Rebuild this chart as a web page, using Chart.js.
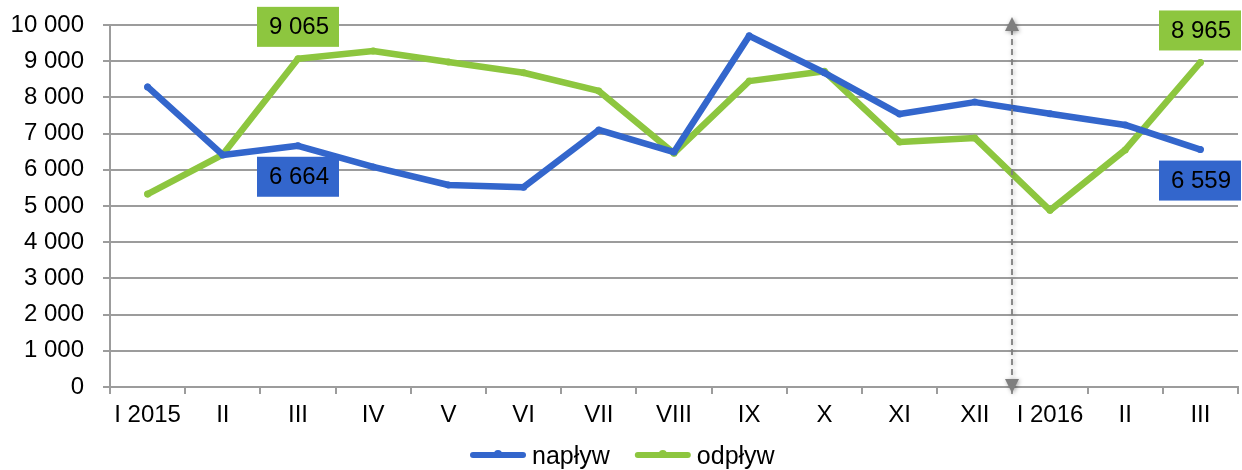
<!DOCTYPE html>
<html>
<head>
<meta charset="utf-8">
<script src="https://cdn.jsdelivr.net/npm/chart.js@4.4.1/dist/chart.umd.min.js"></script>
<style>
  html, body { margin: 0; padding: 0; background: #fff; }
  #wrap { width: 1242px; height: 470px; }
</style>
</head>
<body>
<div id="wrap"><canvas id="c" width="1242" height="470"></canvas></div>
<script>
const categories = ['I 2015', 'II', 'III', 'IV', 'V', 'VI', 'VII', 'VIII', 'IX', 'X', 'XI', 'XII', 'I 2016', 'II', 'III'];
const naplyw = [8290, 6410, 6664, 6080, 5580, 5520, 7100, 6490, 9700, 8680, 7540, 7870, 7550, 7240, 6559];
const odplyw = [5330, 6420, 9065, 9280, 8980, 8680, 8180, 6460, 8450, 8720, 6770, 6880, 4880, 6550, 8965];
const yTicks = [0, 1000, 2000, 3000, 4000, 5000, 6000, 7000, 8000, 9000, 10000];
// labelled points: [datasetIndex, pointIndex, above?]
const labelledPoints = [[1, 2, true], [0, 2, false], [1, 14, true], [0, 14, false]];
const dividerAfterIndex = 11;

const BLUE = '#3366cc';
const GREEN = '#8dc63f';
const GRID = '#9c9c9c';
const FONT = '"Liberation Sans", Arial, sans-serif';

function fmt(v) {
  return String(v).replace(/\B(?=(\d{3})+(?!\d))/g, ' ');
}

const labelPlugin = {
  id: 'valueBoxes',
  afterDatasetsDraw(chart) {
    const ctx = chart.ctx;
    ctx.save();
    ctx.font = '24px ' + FONT;
    labelledPoints.forEach(([ds, i, above]) => {
      const meta = chart.getDatasetMeta(ds);
      const pt = meta.data[i];
      const v = chart.data.datasets[ds].data[i];
      const w = 82, h = 40;
      let left = pt.x - w / 2;
      if (left + w > chart.width - 1) left = chart.width - 1 - w;
      const top = above ? pt.y - 12 - h : pt.y + 11;
      ctx.fillStyle = chart.data.datasets[ds].borderColor;
      ctx.fillRect(left, top, w, h);
      ctx.fillStyle = '#000';
      ctx.textAlign = 'center';
      ctx.textBaseline = 'middle';
      ctx.fillText(fmt(v), left + w / 2 + 1, top + h / 2 + 1);
    });
    ctx.restore();
  }
};

const arrowPlugin = {
  id: 'dividerArrow',
  afterDatasetsDraw(chart) {
    const xs = chart.scales.x;
    const ys = chart.scales.y;
    const x = Math.round((xs.getPixelForValue(dividerAfterIndex) + xs.getPixelForValue(dividerAfterIndex + 1)) / 2);
    const yTop = ys.getPixelForValue(10000) - 8;
    const yBot = ys.getPixelForValue(0) + 6;
    const ctx = chart.ctx;
    ctx.save();
    ctx.shadowColor = 'rgba(0,0,0,0.35)';
    ctx.shadowBlur = 4;
    ctx.shadowOffsetX = 1;
    ctx.shadowOffsetY = 1;
    ctx.strokeStyle = '#7f7f7f';
    ctx.fillStyle = '#7f7f7f';
    ctx.lineWidth = 1.8;
    ctx.setLineDash([6, 4]);
    ctx.beginPath();
    ctx.moveTo(x, yTop + 12);
    ctx.lineTo(x, yBot - 12);
    ctx.stroke();
    ctx.setLineDash([]);
    ctx.beginPath();
    ctx.moveTo(x, yTop);
    ctx.lineTo(x - 7, yTop + 14);
    ctx.lineTo(x + 7, yTop + 14);
    ctx.closePath();
    ctx.fill();
    ctx.beginPath();
    ctx.moveTo(x, yBot);
    ctx.lineTo(x - 7, yBot - 14);
    ctx.lineTo(x + 7, yBot - 14);
    ctx.closePath();
    ctx.fill();
    ctx.restore();
  }
};

const legendPlugin = {
  id: 'customLegend',
  afterDraw(chart) {
    const ctx = chart.ctx;
    ctx.save();
    ctx.font = '25px ' + FONT;
    ctx.textBaseline = 'middle';
    ctx.textAlign = 'left';
    const y = 456;
    const lineW = 56, gap = 6, itemGap = 25;
    const items = chart.data.datasets.map(d => ({ label: d.label, color: d.borderColor, tw: ctx.measureText(d.label).width }));
    let x = 470;
    items.forEach(it => {
      ctx.strokeStyle = it.color;
      ctx.fillStyle = it.color;
      ctx.lineWidth = 6;
      ctx.lineCap = 'round';
      ctx.beginPath();
      ctx.moveTo(x + 3, y - 1);
      ctx.lineTo(x + lineW - 3, y - 1);
      ctx.stroke();
      ctx.beginPath();
      ctx.arc(x + lineW / 2, y - 2, 4, 0, Math.PI * 2);
      ctx.fill();
      ctx.fillStyle = '#000';
      ctx.fillText(it.label, x + lineW + gap, y + 1);
      x += lineW + gap + it.tw + itemGap;
    });
    ctx.restore();
  }
};

new Chart(document.getElementById('c'), {
  type: 'line',
  data: {
    labels: categories,
    datasets: [
      {
        label: 'napływ',
        data: naplyw,
        borderColor: BLUE,
        backgroundColor: BLUE,
        borderWidth: 6.5,
        pointRadius: 3.5,
        pointBackgroundColor: BLUE,
        pointBorderWidth: 0,
        borderJoinStyle: 'round',
        borderCapStyle: 'round',
        tension: 0
      },
      {
        label: 'odpływ',
        data: odplyw,
        borderColor: GREEN,
        backgroundColor: GREEN,
        borderWidth: 6.5,
        pointRadius: 3.5,
        pointBackgroundColor: GREEN,
        pointBorderWidth: 0,
        borderJoinStyle: 'round',
        borderCapStyle: 'round',
        tension: 0
      }
    ]
  },
  options: {
    responsive: false,
    animation: false,
    devicePixelRatio: 1,
    layout: { padding: { left: 0, right: 3, top: 25, bottom: 43 } },
    plugins: {
      tooltip: { enabled: false },
      legend: { display: false }
    },
    scales: {
      x: {
        offset: true,
        grid: {
          offset: true,
          drawOnChartArea: false,
          drawTicks: true,
          tickLength: 7,
          color: GRID,
          lineWidth: 2
        },
        border: { display: true, color: GRID, width: 2 },
        ticks: {
          font: { family: FONT, size: 24 },
          color: '#000',
          padding: 7,
          maxRotation: 0,
          autoSkip: false
        },
        afterFit(scale) {
          scale.height = 40;
          scale.paddingLeft = 0; scale.paddingRight = 0;
          scale.paddingTop = 0; scale.paddingBottom = 0;
        }
      },
      y: {
        min: 0,
        max: 10000,
        afterBuildTicks(scale) { scale.ticks = yTicks.map(v => ({ value: v })); },
        grid: {
          color: GRID,
          lineWidth: 2,
          drawTicks: true,
          tickLength: 7
        },
        border: { display: true, color: GRID, width: 2 },
        ticks: {
          font: { family: FONT, size: 24 },
          color: '#000',
          padding: 19,
          callback: (v) => fmt(v)
        },
        afterFit(scale) {
          scale.width = 110;
          scale.paddingTop = 0; scale.paddingBottom = 0;
          scale.paddingLeft = 0; scale.paddingRight = 0;
        }
      }
    }
  },
  plugins: [labelPlugin, arrowPlugin, legendPlugin]
});
</script>
</body>
</html>
